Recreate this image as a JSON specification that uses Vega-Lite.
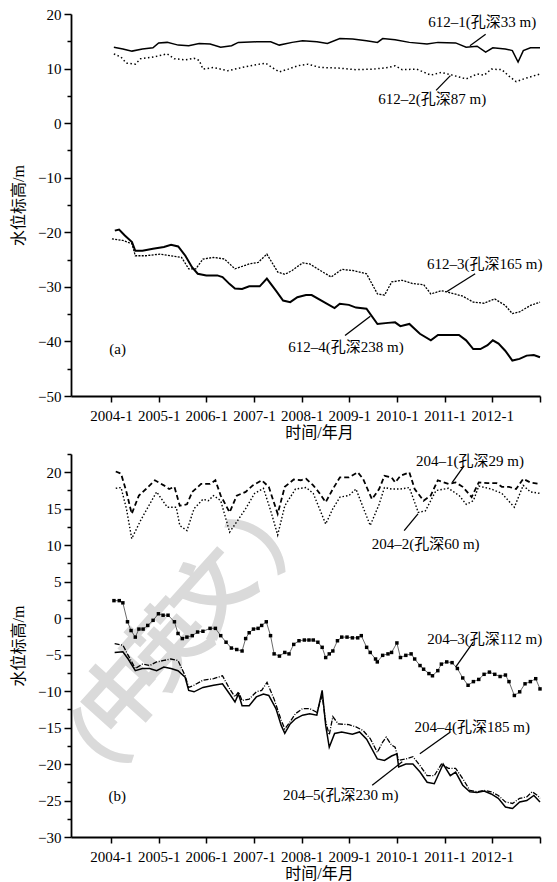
{
  "$schema": "https://vega.github.io/schema/vega-lite/v6.json",
  "background": "white",
  "padding": {"left": 10, "top": 7, "right": 0, "bottom": 0},
  "config": {
    "view": {"stroke": null},
    "font": "Liberation Serif, Noto Sans CJK SC",
    "axis": {
      "domainColor": "black", "domainWidth": 1.8, "tickColor": "black", "tickWidth": 1.5,
      "labelFont": "Liberation Serif", "labelFontSize": 15, "labelColor": "black",
      "titleFont": "Liberation Serif, Noto Sans CJK SC", "titleFontSize": 16, "titleFontWeight": "normal", "titleColor": "black",
      "grid": false, "labelOverlap": false, "labelFlush": false
    },
    "text": {"font": "Liberation Serif, Noto Sans CJK SC", "fontSize": 15, "color": "black"}
  },
  "datasets": {
    "a": [
      {"s":"612-1","t":2004.06,"v":13.9},{"s":"612-1","t":2004.25,"v":13.6},{"s":"612-1","t":2004.44,"v":13.2},{"s":"612-1","t":2004.66,"v":13.6},{"s":"612-1","t":2004.88,"v":13.8},{"s":"612-1","t":2005.0,"v":14.7},{"s":"612-1","t":2005.18,"v":14.8},{"s":"612-1","t":2005.41,"v":14.3},{"s":"612-1","t":2005.63,"v":14.2},{"s":"612-1","t":2005.85,"v":14.6},{"s":"612-1","t":2006.08,"v":14.5},{"s":"612-1","t":2006.3,"v":13.9},{"s":"612-1","t":2006.53,"v":14.2},{"s":"612-1","t":2006.67,"v":14.8},{"s":"612-1","t":2007.05,"v":14.9},{"s":"612-1","t":2007.35,"v":14.9},{"s":"612-1","t":2007.53,"v":14.3},{"s":"612-1","t":2007.8,"v":14.8},{"s":"612-1","t":2008.02,"v":15.1},{"s":"612-1","t":2008.32,"v":14.9},{"s":"612-1","t":2008.54,"v":14.6},{"s":"612-1","t":2008.8,"v":15.5},{"s":"612-1","t":2009.07,"v":15.4},{"s":"612-1","t":2009.36,"v":15.1},{"s":"612-1","t":2009.59,"v":14.8},{"s":"612-1","t":2009.7,"v":15.5},{"s":"612-1","t":2009.96,"v":15.3},{"s":"612-1","t":2010.26,"v":14.8},{"s":"612-1","t":2010.63,"v":14.5},{"s":"612-1","t":2010.86,"v":14.8},{"s":"612-1","t":2011.23,"v":14.7},{"s":"612-1","t":2011.45,"v":13.9},{"s":"612-1","t":2011.68,"v":14.1},{"s":"612-1","t":2011.86,"v":13.0},{"s":"612-1","t":2012.01,"v":13.8},{"s":"612-1","t":2012.27,"v":13.6},{"s":"612-1","t":2012.42,"v":13.3},{"s":"612-1","t":2012.54,"v":11.2},{"s":"612-1","t":2012.65,"v":13.3},{"s":"612-1","t":2012.8,"v":13.8},{"s":"612-1","t":2013.0,"v":13.8},
      {"s":"612-2","t":2004.06,"v":12.7},{"s":"612-2","t":2004.21,"v":12.1},{"s":"612-2","t":2004.32,"v":11.0},{"s":"612-2","t":2004.51,"v":10.8},{"s":"612-2","t":2004.62,"v":11.8},{"s":"612-2","t":2004.88,"v":12.1},{"s":"612-2","t":2005.18,"v":12.7},{"s":"612-2","t":2005.33,"v":11.8},{"s":"612-2","t":2005.56,"v":11.6},{"s":"612-2","t":2005.74,"v":11.9},{"s":"612-2","t":2005.85,"v":11.5},{"s":"612-2","t":2005.93,"v":9.9},{"s":"612-2","t":2006.15,"v":10.2},{"s":"612-2","t":2006.45,"v":9.6},{"s":"612-2","t":2006.75,"v":10.2},{"s":"612-2","t":2007.05,"v":10.7},{"s":"612-2","t":2007.24,"v":11.0},{"s":"612-2","t":2007.38,"v":10.2},{"s":"612-2","t":2007.53,"v":9.4},{"s":"612-2","t":2007.72,"v":9.9},{"s":"612-2","t":2007.91,"v":10.5},{"s":"612-2","t":2008.13,"v":10.8},{"s":"612-2","t":2008.39,"v":10.2},{"s":"612-2","t":2008.77,"v":10.1},{"s":"612-2","t":2009.14,"v":9.8},{"s":"612-2","t":2009.51,"v":9.9},{"s":"612-2","t":2009.81,"v":10.2},{"s":"612-2","t":2009.96,"v":10.5},{"s":"612-2","t":2010.11,"v":9.8},{"s":"612-2","t":2010.41,"v":9.9},{"s":"612-2","t":2010.71,"v":8.8},{"s":"612-2","t":2010.93,"v":9.3},{"s":"612-2","t":2011.16,"v":8.8},{"s":"612-2","t":2011.45,"v":8.1},{"s":"612-2","t":2011.68,"v":9.0},{"s":"612-2","t":2011.83,"v":8.8},{"s":"612-2","t":2011.98,"v":9.9},{"s":"612-2","t":2012.2,"v":9.8},{"s":"612-2","t":2012.35,"v":8.6},{"s":"612-2","t":2012.5,"v":7.6},{"s":"612-2","t":2012.69,"v":8.2},{"s":"612-2","t":2013.0,"v":9.0},
      {"s":"612-3","t":2004.02,"v":-21.2},{"s":"612-3","t":2004.25,"v":-21.5},{"s":"612-3","t":2004.44,"v":-22.1},{"s":"612-3","t":2004.51,"v":-24.3},{"s":"612-3","t":2004.73,"v":-24.3},{"s":"612-3","t":2005.03,"v":-24.0},{"s":"612-3","t":2005.33,"v":-24.4},{"s":"612-3","t":2005.48,"v":-24.6},{"s":"612-3","t":2005.63,"v":-26.7},{"s":"612-3","t":2005.78,"v":-26.7},{"s":"612-3","t":2005.93,"v":-24.9},{"s":"612-3","t":2006.15,"v":-24.6},{"s":"612-3","t":2006.38,"v":-24.9},{"s":"612-3","t":2006.6,"v":-26.7},{"s":"612-3","t":2006.9,"v":-25.8},{"s":"612-3","t":2007.09,"v":-25.5},{"s":"612-3","t":2007.27,"v":-24.0},{"s":"612-3","t":2007.5,"v":-27.3},{"s":"612-3","t":2007.65,"v":-27.7},{"s":"612-3","t":2007.8,"v":-27.0},{"s":"612-3","t":2008.02,"v":-25.6},{"s":"612-3","t":2008.17,"v":-25.8},{"s":"612-3","t":2008.39,"v":-27.0},{"s":"612-3","t":2008.62,"v":-28.2},{"s":"612-3","t":2008.84,"v":-26.8},{"s":"612-3","t":2009.07,"v":-27.0},{"s":"612-3","t":2009.36,"v":-27.6},{"s":"612-3","t":2009.59,"v":-31.3},{"s":"612-3","t":2009.74,"v":-31.5},{"s":"612-3","t":2009.89,"v":-29.1},{"s":"612-3","t":2010.11,"v":-28.8},{"s":"612-3","t":2010.33,"v":-29.4},{"s":"612-3","t":2010.56,"v":-29.6},{"s":"612-3","t":2010.71,"v":-31.3},{"s":"612-3","t":2010.93,"v":-30.7},{"s":"612-3","t":2011.08,"v":-31.0},{"s":"612-3","t":2011.38,"v":-31.7},{"s":"612-3","t":2011.6,"v":-32.8},{"s":"612-3","t":2011.83,"v":-33.0},{"s":"612-3","t":2012.05,"v":-32.2},{"s":"612-3","t":2012.27,"v":-33.4},{"s":"612-3","t":2012.42,"v":-34.9},{"s":"612-3","t":2012.57,"v":-34.6},{"s":"612-3","t":2012.8,"v":-33.4},{"s":"612-3","t":2013.0,"v":-32.8},
      {"s":"612-4","t":2004.08,"v":-19.7},{"s":"612-4","t":2004.17,"v":-19.5},{"s":"612-4","t":2004.29,"v":-20.6},{"s":"612-4","t":2004.44,"v":-21.8},{"s":"612-4","t":2004.51,"v":-23.4},{"s":"612-4","t":2004.66,"v":-23.4},{"s":"612-4","t":2004.88,"v":-23.0},{"s":"612-4","t":2005.11,"v":-22.7},{"s":"612-4","t":2005.26,"v":-22.3},{"s":"612-4","t":2005.41,"v":-22.6},{"s":"612-4","t":2005.56,"v":-24.3},{"s":"612-4","t":2005.7,"v":-26.4},{"s":"612-4","t":2005.82,"v":-27.6},{"s":"612-4","t":2006.0,"v":-27.9},{"s":"612-4","t":2006.23,"v":-27.9},{"s":"612-4","t":2006.34,"v":-28.2},{"s":"612-4","t":2006.49,"v":-29.5},{"s":"612-4","t":2006.6,"v":-30.3},{"s":"612-4","t":2006.75,"v":-30.4},{"s":"612-4","t":2006.9,"v":-29.9},{"s":"612-4","t":2007.12,"v":-29.9},{"s":"612-4","t":2007.27,"v":-28.5},{"s":"612-4","t":2007.46,"v":-30.7},{"s":"612-4","t":2007.61,"v":-32.5},{"s":"612-4","t":2007.76,"v":-32.8},{"s":"612-4","t":2007.91,"v":-31.9},{"s":"612-4","t":2008.09,"v":-31.5},{"s":"612-4","t":2008.21,"v":-31.5},{"s":"612-4","t":2008.47,"v":-32.8},{"s":"612-4","t":2008.69,"v":-33.9},{"s":"612-4","t":2008.8,"v":-33.1},{"s":"612-4","t":2008.99,"v":-33.3},{"s":"612-4","t":2009.14,"v":-33.8},{"s":"612-4","t":2009.36,"v":-34.0},{"s":"612-4","t":2009.59,"v":-36.8},{"s":"612-4","t":2009.81,"v":-36.6},{"s":"612-4","t":2009.96,"v":-36.5},{"s":"612-4","t":2010.07,"v":-37.2},{"s":"612-4","t":2010.26,"v":-36.8},{"s":"612-4","t":2010.48,"v":-38.6},{"s":"612-4","t":2010.71,"v":-39.8},{"s":"612-4","t":2010.86,"v":-38.8},{"s":"612-4","t":2011.08,"v":-38.8},{"s":"612-4","t":2011.3,"v":-38.8},{"s":"612-4","t":2011.45,"v":-39.8},{"s":"612-4","t":2011.6,"v":-41.4},{"s":"612-4","t":2011.75,"v":-41.4},{"s":"612-4","t":2011.9,"v":-40.7},{"s":"612-4","t":2012.01,"v":-39.8},{"s":"612-4","t":2012.13,"v":-40.4},{"s":"612-4","t":2012.27,"v":-41.7},{"s":"612-4","t":2012.42,"v":-43.5},{"s":"612-4","t":2012.57,"v":-43.2},{"s":"612-4","t":2012.72,"v":-42.6},{"s":"612-4","t":2012.87,"v":-42.5},{"s":"612-4","t":2013.0,"v":-42.9}
    ],
    "b": [
      {"s":"204-1","t":2004.1,"v":20.1},{"s":"204-1","t":2004.211,"v":19.8},{"s":"204-1","t":2004.324,"v":17.3},{"s":"204-1","t":2004.435,"v":14.3},{"s":"204-1","t":2004.585,"v":16.8},{"s":"204-1","t":2004.734,"v":17.7},{"s":"204-1","t":2004.921,"v":18.9},{"s":"204-1","t":2005.108,"v":18.2},{"s":"204-1","t":2005.22,"v":17.7},{"s":"204-1","t":2005.331,"v":18.0},{"s":"204-1","t":2005.443,"v":15.4},{"s":"204-1","t":2005.593,"v":15.6},{"s":"204-1","t":2005.705,"v":17.3},{"s":"204-1","t":2005.891,"v":18.4},{"s":"204-1","t":2006.078,"v":18.4},{"s":"204-1","t":2006.19,"v":18.9},{"s":"204-1","t":2006.302,"v":16.8},{"s":"204-1","t":2006.489,"v":14.5},{"s":"204-1","t":2006.638,"v":16.8},{"s":"204-1","t":2006.825,"v":17.3},{"s":"204-1","t":2006.974,"v":18.2},{"s":"204-1","t":2007.161,"v":18.9},{"s":"204-1","t":2007.31,"v":18.0},{"s":"204-1","t":2007.497,"v":14.3},{"s":"204-1","t":2007.646,"v":18.0},{"s":"204-1","t":2007.833,"v":19.0},{"s":"204-1","t":2007.982,"v":18.9},{"s":"204-1","t":2008.094,"v":19.1},{"s":"204-1","t":2008.243,"v":18.2},{"s":"204-1","t":2008.355,"v":17.3},{"s":"204-1","t":2008.504,"v":15.9},{"s":"204-1","t":2008.654,"v":17.7},{"s":"204-1","t":2008.803,"v":19.3},{"s":"204-1","t":2008.99,"v":19.3},{"s":"204-1","t":2009.176,"v":20.0},{"s":"204-1","t":2009.288,"v":19.1},{"s":"204-1","t":2009.475,"v":16.3},{"s":"204-1","t":2009.625,"v":17.7},{"s":"204-1","t":2009.737,"v":19.5},{"s":"204-1","t":2009.886,"v":19.3},{"s":"204-1","t":2009.961,"v":18.6},{"s":"204-1","t":2010.072,"v":19.5},{"s":"204-1","t":2010.259,"v":20.0},{"s":"204-1","t":2010.371,"v":17.7},{"s":"204-1","t":2010.558,"v":16.1},{"s":"204-1","t":2010.707,"v":16.8},{"s":"204-1","t":2010.856,"v":18.9},{"s":"204-1","t":2011.08,"v":18.4},{"s":"204-1","t":2011.23,"v":18.6},{"s":"204-1","t":2011.379,"v":18.0},{"s":"204-1","t":2011.566,"v":16.6},{"s":"204-1","t":2011.715,"v":18.6},{"s":"204-1","t":2011.902,"v":18.5},{"s":"204-1","t":2012.088,"v":18.5},{"s":"204-1","t":2012.2,"v":18.0},{"s":"204-1","t":2012.349,"v":18.0},{"s":"204-1","t":2012.499,"v":17.7},{"s":"204-1","t":2012.648,"v":19.1},{"s":"204-1","t":2012.798,"v":18.6},{"s":"204-1","t":2013.0,"v":18.4},
      {"s":"204-2","t":2004.1,"v":17.8},{"s":"204-2","t":2004.211,"v":17.9},{"s":"204-2","t":2004.324,"v":15.0},{"s":"204-2","t":2004.435,"v":10.9},{"s":"204-2","t":2004.622,"v":13.4},{"s":"204-2","t":2004.809,"v":15.6},{"s":"204-2","t":2004.958,"v":17.3},{"s":"204-2","t":2005.182,"v":15.2},{"s":"204-2","t":2005.369,"v":15.2},{"s":"204-2","t":2005.443,"v":12.7},{"s":"204-2","t":2005.593,"v":12.0},{"s":"204-2","t":2005.742,"v":15.0},{"s":"204-2","t":2005.929,"v":16.3},{"s":"204-2","t":2006.041,"v":16.1},{"s":"204-2","t":2006.153,"v":16.8},{"s":"204-2","t":2006.302,"v":16.1},{"s":"204-2","t":2006.489,"v":11.8},{"s":"204-2","t":2006.638,"v":13.2},{"s":"204-2","t":2006.825,"v":15.0},{"s":"204-2","t":2007.011,"v":17.1},{"s":"204-2","t":2007.198,"v":17.8},{"s":"204-2","t":2007.347,"v":14.8},{"s":"204-2","t":2007.497,"v":11.4},{"s":"204-2","t":2007.646,"v":15.4},{"s":"204-2","t":2007.87,"v":17.7},{"s":"204-2","t":2008.094,"v":17.9},{"s":"204-2","t":2008.243,"v":17.1},{"s":"204-2","t":2008.504,"v":12.9},{"s":"204-2","t":2008.654,"v":15.0},{"s":"204-2","t":2008.803,"v":16.6},{"s":"204-2","t":2008.99,"v":16.8},{"s":"204-2","t":2009.139,"v":17.7},{"s":"204-2","t":2009.288,"v":15.2},{"s":"204-2","t":2009.438,"v":12.7},{"s":"204-2","t":2009.625,"v":15.6},{"s":"204-2","t":2009.737,"v":17.9},{"s":"204-2","t":2009.886,"v":17.7},{"s":"204-2","t":2010.072,"v":17.7},{"s":"204-2","t":2010.259,"v":17.9},{"s":"204-2","t":2010.446,"v":14.5},{"s":"204-2","t":2010.595,"v":14.7},{"s":"204-2","t":2010.819,"v":17.5},{"s":"204-2","t":2011.08,"v":17.8},{"s":"204-2","t":2011.304,"v":16.8},{"s":"204-2","t":2011.454,"v":15.6},{"s":"204-2","t":2011.603,"v":16.1},{"s":"204-2","t":2011.715,"v":18.1},{"s":"204-2","t":2011.976,"v":17.7},{"s":"204-2","t":2012.2,"v":17.1},{"s":"204-2","t":2012.462,"v":15.2},{"s":"204-2","t":2012.648,"v":18.2},{"s":"204-2","t":2012.798,"v":17.3},{"s":"204-2","t":2013.0,"v":17.1},
      {"s":"204-3","t":2004.062,"v":2.4},{"s":"204-3","t":2004.174,"v":2.4},{"s":"204-3","t":2004.249,"v":2.1},{"s":"204-3","t":2004.346,"v":-0.5},{"s":"204-3","t":2004.421,"v":-1.7},{"s":"204-3","t":2004.51,"v":-2.6},{"s":"204-3","t":2004.585,"v":-1.5},{"s":"204-3","t":2004.674,"v":-1.5},{"s":"204-3","t":2004.771,"v":-1.0},{"s":"204-3","t":2004.883,"v":-0.3},{"s":"204-3","t":2004.995,"v":0.6},{"s":"204-3","t":2005.093,"v":0.4},{"s":"204-3","t":2005.197,"v":0.4},{"s":"204-3","t":2005.331,"v":-0.5},{"s":"204-3","t":2005.406,"v":-2.1},{"s":"204-3","t":2005.496,"v":-2.8},{"s":"204-3","t":2005.593,"v":-2.6},{"s":"204-3","t":2005.705,"v":-2.4},{"s":"204-3","t":2005.817,"v":-1.9},{"s":"204-3","t":2005.929,"v":-1.8},{"s":"204-3","t":2006.078,"v":-1.4},{"s":"204-3","t":2006.19,"v":-1.4},{"s":"204-3","t":2006.302,"v":-2.4},{"s":"204-3","t":2006.414,"v":-3.3},{"s":"204-3","t":2006.526,"v":-4.1},{"s":"204-3","t":2006.638,"v":-4.3},{"s":"204-3","t":2006.75,"v":-4.5},{"s":"204-3","t":2006.825,"v":-2.8},{"s":"204-3","t":2006.899,"v":-2.0},{"s":"204-3","t":2006.989,"v":-1.5},{"s":"204-3","t":2007.086,"v":-1.4},{"s":"204-3","t":2007.161,"v":-1.0},{"s":"204-3","t":2007.258,"v":-0.5},{"s":"204-3","t":2007.347,"v":-2.4},{"s":"204-3","t":2007.422,"v":-4.9},{"s":"204-3","t":2007.534,"v":-5.2},{"s":"204-3","t":2007.646,"v":-4.7},{"s":"204-3","t":2007.735,"v":-4.9},{"s":"204-3","t":2007.833,"v":-3.6},{"s":"204-3","t":2007.944,"v":-3.1},{"s":"204-3","t":2008.056,"v":-3.0},{"s":"204-3","t":2008.153,"v":-3.0},{"s":"204-3","t":2008.243,"v":-3.0},{"s":"204-3","t":2008.34,"v":-3.3},{"s":"204-3","t":2008.43,"v":-4.0},{"s":"204-3","t":2008.504,"v":-5.4},{"s":"204-3","t":2008.579,"v":-4.9},{"s":"204-3","t":2008.654,"v":-4.5},{"s":"204-3","t":2008.751,"v":-3.1},{"s":"204-3","t":2008.84,"v":-2.6},{"s":"204-3","t":2008.952,"v":-2.6},{"s":"204-3","t":2009.064,"v":-2.7},{"s":"204-3","t":2009.176,"v":-2.7},{"s":"204-3","t":2009.251,"v":-2.4},{"s":"204-3","t":2009.363,"v":-4.0},{"s":"204-3","t":2009.438,"v":-4.7},{"s":"204-3","t":2009.55,"v":-5.6},{"s":"204-3","t":2009.587,"v":-6.0},{"s":"204-3","t":2009.699,"v":-5.1},{"s":"204-3","t":2009.811,"v":-4.9},{"s":"204-3","t":2009.886,"v":-4.7},{"s":"204-3","t":2009.998,"v":-3.4},{"s":"204-3","t":2010.072,"v":-5.4},{"s":"204-3","t":2010.185,"v":-5.1},{"s":"204-3","t":2010.296,"v":-4.9},{"s":"204-3","t":2010.371,"v":-5.6},{"s":"204-3","t":2010.483,"v":-6.5},{"s":"204-3","t":2010.558,"v":-7.0},{"s":"204-3","t":2010.67,"v":-7.6},{"s":"204-3","t":2010.744,"v":-7.9},{"s":"204-3","t":2010.856,"v":-7.2},{"s":"204-3","t":2010.931,"v":-6.3},{"s":"204-3","t":2011.043,"v":-6.0},{"s":"204-3","t":2011.155,"v":-6.1},{"s":"204-3","t":2011.267,"v":-6.9},{"s":"204-3","t":2011.379,"v":-8.2},{"s":"204-3","t":2011.491,"v":-9.2},{"s":"204-3","t":2011.603,"v":-8.7},{"s":"204-3","t":2011.715,"v":-8.4},{"s":"204-3","t":2011.827,"v":-7.7},{"s":"204-3","t":2011.939,"v":-7.4},{"s":"204-3","t":2012.051,"v":-7.7},{"s":"204-3","t":2012.163,"v":-8.0},{"s":"204-3","t":2012.275,"v":-7.8},{"s":"204-3","t":2012.349,"v":-8.7},{"s":"204-3","t":2012.462,"v":-10.6},{"s":"204-3","t":2012.574,"v":-10.1},{"s":"204-3","t":2012.686,"v":-9.0},{"s":"204-3","t":2012.798,"v":-8.7},{"s":"204-3","t":2012.91,"v":-8.3},{"s":"204-3","t":2013.0,"v":-9.7},
      {"s":"204-4","t":2004.077,"v":-3.5},{"s":"204-4","t":2004.249,"v":-3.7},{"s":"204-4","t":2004.361,"v":-5.1},{"s":"204-4","t":2004.51,"v":-6.9},{"s":"204-4","t":2004.659,"v":-6.3},{"s":"204-4","t":2004.809,"v":-6.5},{"s":"204-4","t":2004.958,"v":-6.0},{"s":"204-4","t":2005.108,"v":-5.8},{"s":"204-4","t":2005.257,"v":-5.6},{"s":"204-4","t":2005.406,"v":-5.8},{"s":"204-4","t":2005.555,"v":-7.9},{"s":"204-4","t":2005.63,"v":-9.5},{"s":"204-4","t":2005.742,"v":-9.2},{"s":"204-4","t":2005.929,"v":-8.5},{"s":"204-4","t":2006.153,"v":-8.3},{"s":"204-4","t":2006.339,"v":-7.9},{"s":"204-4","t":2006.489,"v":-9.7},{"s":"204-4","t":2006.601,"v":-10.8},{"s":"204-4","t":2006.675,"v":-10.1},{"s":"204-4","t":2006.75,"v":-11.3},{"s":"204-4","t":2006.899,"v":-11.1},{"s":"204-4","t":2007.049,"v":-10.1},{"s":"204-4","t":2007.161,"v":-9.9},{"s":"204-4","t":2007.273,"v":-8.8},{"s":"204-4","t":2007.422,"v":-11.1},{"s":"204-4","t":2007.571,"v":-14.0},{"s":"204-4","t":2007.646,"v":-15.2},{"s":"204-4","t":2007.758,"v":-14.2},{"s":"204-4","t":2007.87,"v":-13.1},{"s":"204-4","t":2008.019,"v":-12.4},{"s":"204-4","t":2008.168,"v":-12.4},{"s":"204-4","t":2008.318,"v":-12.9},{"s":"204-4","t":2008.43,"v":-10.6},{"s":"204-4","t":2008.504,"v":-14.2},{"s":"204-4","t":2008.579,"v":-16.0},{"s":"204-4","t":2008.654,"v":-13.5},{"s":"204-4","t":2008.766,"v":-14.5},{"s":"204-4","t":2008.99,"v":-14.6},{"s":"204-4","t":2009.139,"v":-14.9},{"s":"204-4","t":2009.288,"v":-15.4},{"s":"204-4","t":2009.438,"v":-16.5},{"s":"204-4","t":2009.587,"v":-18.4},{"s":"204-4","t":2009.699,"v":-17.0},{"s":"204-4","t":2009.774,"v":-16.3},{"s":"204-4","t":2009.886,"v":-17.4},{"s":"204-4","t":2009.961,"v":-17.7},{"s":"204-4","t":2010.035,"v":-19.5},{"s":"204-4","t":2010.185,"v":-19.3},{"s":"204-4","t":2010.334,"v":-19.0},{"s":"204-4","t":2010.483,"v":-20.2},{"s":"204-4","t":2010.632,"v":-21.6},{"s":"204-4","t":2010.782,"v":-21.6},{"s":"204-4","t":2010.931,"v":-20.0},{"s":"204-4","t":2011.08,"v":-20.6},{"s":"204-4","t":2011.23,"v":-20.6},{"s":"204-4","t":2011.379,"v":-22.0},{"s":"204-4","t":2011.528,"v":-23.6},{"s":"204-4","t":2011.678,"v":-23.8},{"s":"204-4","t":2011.827,"v":-23.6},{"s":"204-4","t":2011.976,"v":-23.8},{"s":"204-4","t":2012.125,"v":-24.3},{"s":"204-4","t":2012.275,"v":-25.2},{"s":"204-4","t":2012.424,"v":-25.4},{"s":"204-4","t":2012.574,"v":-24.7},{"s":"204-4","t":2012.723,"v":-24.5},{"s":"204-4","t":2012.835,"v":-23.8},{"s":"204-4","t":2012.947,"v":-24.3},{"s":"204-4","t":2013.0,"v":-24.7},
      {"s":"204-5","t":2004.077,"v":-4.7},{"s":"204-5","t":2004.249,"v":-4.6},{"s":"204-5","t":2004.361,"v":-5.6},{"s":"204-5","t":2004.51,"v":-7.2},{"s":"204-5","t":2004.659,"v":-6.9},{"s":"204-5","t":2004.809,"v":-6.9},{"s":"204-5","t":2004.958,"v":-7.2},{"s":"204-5","t":2005.108,"v":-6.7},{"s":"204-5","t":2005.257,"v":-6.9},{"s":"204-5","t":2005.406,"v":-7.2},{"s":"204-5","t":2005.555,"v":-8.1},{"s":"204-5","t":2005.63,"v":-9.9},{"s":"204-5","t":2005.742,"v":-10.1},{"s":"204-5","t":2005.929,"v":-9.5},{"s":"204-5","t":2006.153,"v":-9.2},{"s":"204-5","t":2006.339,"v":-9.0},{"s":"204-5","t":2006.489,"v":-10.4},{"s":"204-5","t":2006.601,"v":-11.5},{"s":"204-5","t":2006.675,"v":-10.4},{"s":"204-5","t":2006.75,"v":-12.0},{"s":"204-5","t":2006.899,"v":-12.0},{"s":"204-5","t":2007.049,"v":-10.8},{"s":"204-5","t":2007.198,"v":-10.4},{"s":"204-5","t":2007.31,"v":-10.6},{"s":"204-5","t":2007.46,"v":-12.4},{"s":"204-5","t":2007.571,"v":-14.7},{"s":"204-5","t":2007.646,"v":-15.8},{"s":"204-5","t":2007.758,"v":-14.5},{"s":"204-5","t":2007.87,"v":-13.8},{"s":"204-5","t":2008.019,"v":-13.3},{"s":"204-5","t":2008.168,"v":-13.1},{"s":"204-5","t":2008.318,"v":-13.3},{"s":"204-5","t":2008.43,"v":-9.9},{"s":"204-5","t":2008.504,"v":-14.7},{"s":"204-5","t":2008.579,"v":-17.7},{"s":"204-5","t":2008.691,"v":-15.8},{"s":"204-5","t":2008.84,"v":-15.6},{"s":"204-5","t":2009.064,"v":-15.9},{"s":"204-5","t":2009.214,"v":-15.6},{"s":"204-5","t":2009.363,"v":-16.6},{"s":"204-5","t":2009.587,"v":-19.3},{"s":"204-5","t":2009.737,"v":-19.5},{"s":"204-5","t":2009.886,"v":-18.9},{"s":"204-5","t":2009.998,"v":-18.6},{"s":"204-5","t":2010.035,"v":-20.4},{"s":"204-5","t":2010.185,"v":-20.0},{"s":"204-5","t":2010.334,"v":-20.0},{"s":"204-5","t":2010.483,"v":-21.1},{"s":"204-5","t":2010.632,"v":-22.5},{"s":"204-5","t":2010.782,"v":-22.7},{"s":"204-5","t":2010.968,"v":-20.0},{"s":"204-5","t":2011.118,"v":-21.6},{"s":"204-5","t":2011.23,"v":-21.1},{"s":"204-5","t":2011.379,"v":-22.9},{"s":"204-5","t":2011.528,"v":-23.8},{"s":"204-5","t":2011.678,"v":-23.9},{"s":"204-5","t":2011.827,"v":-23.7},{"s":"204-5","t":2011.976,"v":-24.1},{"s":"204-5","t":2012.125,"v":-24.7},{"s":"204-5","t":2012.275,"v":-25.9},{"s":"204-5","t":2012.424,"v":-26.1},{"s":"204-5","t":2012.574,"v":-25.2},{"s":"204-5","t":2012.723,"v":-25.0},{"s":"204-5","t":2012.872,"v":-24.3},{"s":"204-5","t":2013.0,"v":-25.2}
    ],
    "labA": [
      {"t":2011.79,"v":18.5,"text":"612–1(孔深33 m)"},
      {"t":2010.74,"v":4.4,"text":"612–2(孔深87 m)"},
      {"t":2011.84,"v":-25.8,"text":"612–3(孔深165 m)"},
      {"t":2008.93,"v":-41.1,"text":"612–4(孔深238 m)"},
      {"t":2004.14,"v":-41.4,"text":"(a)"}
    ],
    "leadA": [
      {"t":2011.86,"v":16.3,"t2":2011.53,"v2":14.2},
      {"t":2010.82,"v":6.0,"t2":2011.12,"v2":8.7},
      {"t":2011.64,"v":-27.6,"t2":2011.04,"v2":-30.9},
      {"t":2008.91,"v":-38.9,"t2":2009.44,"v2":-35.4}
    ],
    "labB": [
      {"t":2011.53,"v":21.6,"text":"204–1(孔深29 m)"},
      {"t":2010.6,"v":10.2,"text":"204–2(孔深60 m)"},
      {"t":2011.84,"v":-2.9,"text":"204–3(孔深112 m)"},
      {"t":2011.58,"v":-14.9,"text":"204–4(孔深185 m)"},
      {"t":2008.82,"v":-24.3,"text":"204–5(孔深230 m)"},
      {"t":2004.13,"v":-24.4,"text":"(b)"}
    ],
    "leadB": [
      {"t":2011.41,"v":20.9,"t2":2011.16,"v2":18.6},
      {"t":2010.15,"v":12.0,"t2":2010.44,"v2":14.3},
      {"t":2011.6,"v":-3.3,"t2":2011.23,"v2":-6.7},
      {"t":2011.12,"v":-15.6,"t2":2010.48,"v2":-18.6},
      {"t":2009.48,"v":-22.9,"t2":2010.11,"v2":-19.7}
    ],
    "wm": [
      {"t":2003.5,"v":-19.8,"ch":"（"},
      {"t":2004.3,"v":-10.8,"ch":"中"},
      {"t":2005.24,"v":-4.0,"ch":"英"},
      {"t":2006.18,"v":3.2,"ch":"文"},
      {"t":2007.56,"v":12.4,"ch":"）"}
    ]
  },
  "bounds": "flush",
  "spacing": 58,
  "vconcat": [
    {
      "width": 469,
      "height": 382,
      "encoding": {
        "x": {"field": "t", "type": "quantitative",
          "scale": {"domain": [2003.161, 2013], "nice": false, "zero": false},
          "axis": {"values": [2004,2005,2006,2007,2008,2009,2010,2011,2012,2013],
            "labelExpr": "datum.value < 2013 ? datum.value + '-1' : ''",
            "title": "时间/年月", "tickSize": 6, "labelPadding": 6, "titlePadding": 1, "titleX": 248}},
        "y": {"field": "v", "type": "quantitative",
          "scale": {"domain": [-50, 20], "nice": false, "zero": false},
          "axis": {"values": [-50,-45,-40,-35,-30,-25,-20,-15,-10,-5,0,5,10,15,20],
            "labelExpr": "datum.value % 10 === 0 ? datum.label : ''",
            "tickSize": {"condition": {"test": "datum.value % 10 === 0", "value": 7}, "value": 4},
            "labelPadding": 3, "title": "水位标高/m", "titlePadding": 11}}
      },
      "layer": [
        {"data": {"name": "a"}, "transform": [{"filter": "datum.s === '612-1'"}],
          "mark": {"type": "line", "color": "black", "strokeWidth": 1.5}},
        {"data": {"name": "a"}, "transform": [{"filter": "datum.s === '612-2'"}],
          "mark": {"type": "line", "color": "black", "strokeWidth": 1.5, "strokeDash": [1.5, 2.5]}},
        {"data": {"name": "a"}, "transform": [{"filter": "datum.s === '612-3'"}],
          "mark": {"type": "line", "color": "black", "strokeWidth": 1.3, "strokeDash": [2, 1.3]}},
        {"data": {"name": "a"}, "transform": [{"filter": "datum.s === '612-4'"}],
          "mark": {"type": "line", "color": "black", "strokeWidth": 2}},
        {"data": {"name": "leadA"}, "mark": {"type": "rule", "color": "black", "strokeWidth": 1.3},
          "encoding": {"x2": {"field": "t2"}, "y2": {"field": "v2"}}},
        {"data": {"name": "labA"}, "mark": {"type": "text", "align": "center", "baseline": "middle"},
          "encoding": {"text": {"field": "text"}}}
      ]
    },
    {
      "width": 469,
      "height": 383,
      "encoding": {
        "x": {"field": "t", "type": "quantitative",
          "scale": {"domain": [2003.161, 2013], "nice": false, "zero": false},
          "axis": {"values": [2004,2005,2006,2007,2008,2009,2010,2011,2012,2013],
            "labelExpr": "datum.value < 2013 ? datum.value + '-1' : ''",
            "title": "时间/年月", "tickSize": 6, "labelPadding": 6, "titlePadding": 1, "titleX": 248}},
        "y": {"field": "v", "type": "quantitative",
          "scale": {"domain": [-30, 22.5], "nice": false, "zero": false},
          "axis": {"values": [-30,-27.5,-25,-22.5,-20,-17.5,-15,-12.5,-10,-7.5,-5,-2.5,0,2.5,5,7.5,10,12.5,15,17.5,20,22.5],
            "labelExpr": "datum.value % 5 === 0 ? datum.label : ''",
            "tickSize": {"condition": {"test": "datum.value % 5 === 0", "value": 7}, "value": 4},
            "labelPadding": 3, "title": "水位标高/m", "titlePadding": 11}}
      },
      "layer": [
        {"data": {"name": "wm"}, "mark": {"type": "text", "fontSize": 82, "fontWeight": "bold", "color": "#dadada", "angle": 312, "font": "Noto Sans CJK SC", "clip": true, "align": "center", "baseline": "middle"},
          "encoding": {"text": {"field": "ch"}}},
        {"data": {"name": "b"}, "transform": [{"filter": "datum.s === '204-1'"}],
          "mark": {"type": "line", "color": "black", "strokeWidth": 1.8, "strokeDash": [5, 3]}},
        {"data": {"name": "b"}, "transform": [{"filter": "datum.s === '204-2'"}],
          "mark": {"type": "line", "color": "black", "strokeWidth": 1.4, "strokeDash": [1.5, 2]}},
        {"data": {"name": "b"}, "transform": [{"filter": "datum.s === '204-3'"}],
          "mark": {"type": "line", "color": "#444444", "strokeWidth": 0.8}},
        {"data": {"name": "b"}, "transform": [{"filter": "datum.s === '204-3'"}],
          "mark": {"type": "point", "shape": "square", "filled": true, "color": "black", "size": 12, "opacity": 1}},
        {"data": {"name": "b"}, "transform": [{"filter": "datum.s === '204-4'"}],
          "mark": {"type": "line", "color": "black", "strokeWidth": 1.3, "strokeDash": [5, 1.5, 1, 1.5]}},
        {"data": {"name": "b"}, "transform": [{"filter": "datum.s === '204-5'"}],
          "mark": {"type": "line", "color": "black", "strokeWidth": 1.5}},
        {"data": {"name": "leadB"}, "mark": {"type": "rule", "color": "black", "strokeWidth": 1.3},
          "encoding": {"x2": {"field": "t2"}, "y2": {"field": "v2"}}},
        {"data": {"name": "labB"}, "mark": {"type": "text", "align": "center", "baseline": "middle"},
          "encoding": {"text": {"field": "text"}}}
      ]
    }
  ]
}
